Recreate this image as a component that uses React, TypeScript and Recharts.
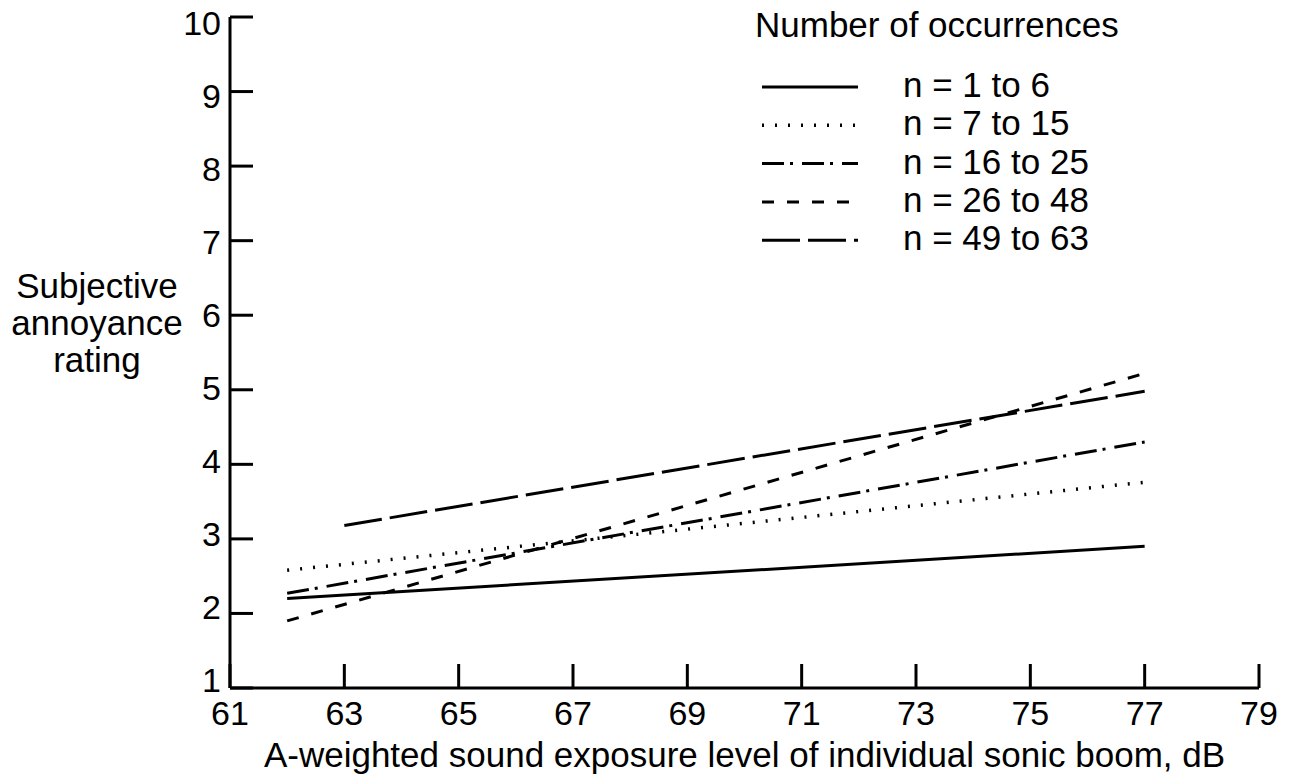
import { Label, Legend, Line, LineChart, XAxis, YAxis } from "recharts";

type Pt = { db: number; rating: number };

// regression lines (dB, rating at the two ends)
const seriesNames = ["n = 1 to 6", "n = 7 to 15", "n = 16 to 25", "n = 26 to 48", "n = 49 to 63"];
const n1to6: Pt[] = [{ db: 62, rating: 2.2 }, { db: 77, rating: 2.9 }];
const n7to15: Pt[] = [{ db: 62, rating: 2.58 }, { db: 77, rating: 3.76 }];
const n16to25: Pt[] = [{ db: 62, rating: 2.27 }, { db: 77, rating: 4.3 }];
const n26to48: Pt[] = [{ db: 62, rating: 1.9 }, { db: 77, rating: 5.22 }];
const n49to63: Pt[] = [{ db: 63, rating: 3.18 }, { db: 77, rating: 4.98 }];
const seriesData = [n1to6, n7to15, n16to25, n26to48, n49to63];

const xTicks = [61, 63, 65, 67, 69, 71, 73, 75, 77, 79];
const yTicks = [1, 2, 3, 4, 5, 6, 7, 8, 9, 10];

const legendTitle = "Number of occurrences";
const xTitle = "A-weighted sound exposure level of individual sonic boom, dB";
const yTitle = ["Subjective", "annoyance", "rating"];

const dashes = ["0", "2 11", "22 6 3 9", "12 13", "38 8"];
const widths = [3, 3.5, 3, 3, 3];
const FONT = "'Liberation Sans', Arial, Helvetica, sans-serif";
const FS = 34;
const TITLE_FS = 35;

const XTick = (props: any) => {
  const { x, y, payload } = props;
  return (
    <g>
      <line x1={x} y1={y} x2={x} y2={y - 24} stroke="#000" strokeWidth={3} />
      <text x={x} y={y + 37} textAnchor="middle" fontSize={FS} fill="#000">
        {payload.value}
      </text>
    </g>
  );
};

const YTick = (props: any) => {
  const { x, y, payload } = props;
  // the lettering sits a little lower on the upper ticks in the original
  const dy = 4 + (payload.value - 1) * 1.6;
  return (
    <g>
      <line x1={x} y1={y} x2={x + 23} y2={y} stroke="#000" strokeWidth={3} />
      <text x={x - 9} y={y + dy} textAnchor="end" fontSize={FS} fill="#000">
        {payload.value}
      </text>
    </g>
  );
};

const YTitle = (props: any) => {
  const vb = props.viewBox;
  const cy = vb.y + vb.height / 2;
  return (
    <text x={vb.x + 97} y={cy - 55} textAnchor="middle" fontSize={TITLE_FS} fill="#000">
      {yTitle.map((t, i) => (
        <tspan key={t} x={vb.x + 97} dy={i === 0 ? 0 : 37}>
          {t}
        </tspan>
      ))}
    </text>
  );
};

const renderLegend = () => (
  <svg width={420} height={270} style={{ fontFamily: FONT }}>
    <text x={0} y={37} fontSize={TITLE_FS} fill="#000">
      {legendTitle}
    </text>
    {seriesNames.map((name, i) => (
      <g key={name}>
        <line
          x1={7}
          x2={103}
          y1={87 + i * 38.3}
          y2={87 + i * 38.3}
          stroke="#000"
          strokeWidth={widths[i]}
          strokeDasharray={dashes[i]}
        />
        <text x={148} y={97 + i * 38.3} fontSize={TITLE_FS} fill="#000">
          {name}
        </text>
      </g>
    ))}
  </svg>
);

export default function App() {
  return (
    <div style={{ position: "absolute", left: 0, top: 0, fontFamily: FONT }}>
      <LineChart
        width={1292}
        height={779}
        margin={{ top: 17, right: 33, bottom: 0, left: 0 }}
        style={{ fontFamily: FONT }}
      >
        <XAxis
          type="number"
          dataKey="db"
          domain={[61, 79]}
          ticks={xTicks}
          interval={0}
          height={91}
          tickSize={0}
          tickMargin={0}
          tickLine={false}
          tick={XTick}
          axisLine={{ stroke: "#000", strokeWidth: 3 }}
          allowDuplicatedCategory={false}
        >
          <Label
            value={xTitle}
            position="insideBottom"
            offset={12}
            fontSize={TITLE_FS}
            fill="#000"
          />
        </XAxis>
        <YAxis
          type="number"
          domain={[1, 10]}
          ticks={yTicks}
          interval={0}
          width={230}
          tickSize={0}
          tickMargin={0}
          tickLine={false}
          tick={YTick}
          axisLine={{ stroke: "#000", strokeWidth: 3 }}
        >
          <Label content={YTitle} />
        </YAxis>
        <Legend
          layout="horizontal"
          verticalAlign="middle"
          align="center"
          content={renderLegend}
          wrapperStyle={{ left: 755, top: 0, width: 420, height: 270 }}
        />
        {seriesData.map((d, i) => (
          <Line
            key={seriesNames[i]}
            data={d}
            dataKey="rating"
            name={seriesNames[i]}
            type="linear"
            stroke="#000"
            strokeWidth={widths[i]}
            strokeDasharray={dashes[i]}
            dot={false}
            activeDot={false}
            isAnimationActive={false}
          />
        ))}
      </LineChart>
    </div>
  );
}
